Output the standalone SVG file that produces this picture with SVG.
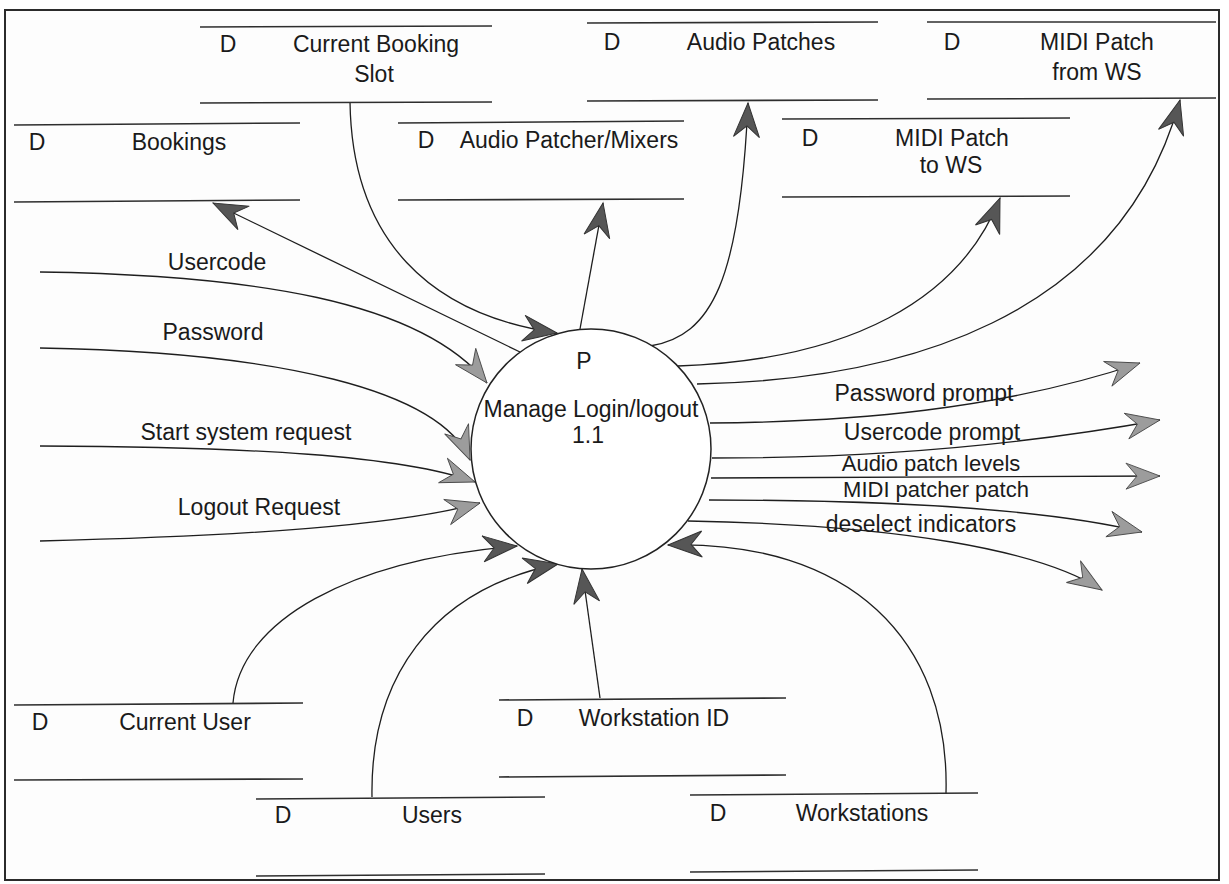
<svg xmlns="http://www.w3.org/2000/svg" width="1229" height="884" viewBox="0 0 1229 884">
  <style>
    .frame { fill: #fdfdfd; stroke: #2b2b2b; stroke-width: 2; }
    .store line { stroke: #2e2e2e; stroke-width: 1.6; }
    text { font-family: "Liberation Sans", Arial, sans-serif; font-size: 23px; fill: #1a1a1a; text-anchor: middle; }
    .small { font-size: 22px; }
    .proc { fill: #ffffff; stroke: #222; stroke-width: 1.5; }
    .flow { fill: none; stroke: #1e1e1e; stroke-width: 1.3; }
    .dark { marker-end: url(#headDark); }
    .light { marker-end: url(#headLight); }
  </style>
  <defs>
    <!-- barbed arrowheads: solid dark for store flows, light grey for external flows -->
    <marker id="headDark" markerUnits="userSpaceOnUse" orient="auto" markerWidth="40" markerHeight="34" refX="36" refY="16" viewBox="0 0 40 34">
      <path d="M36,16 L2,3 L13,16 L2,29 Z" fill="#565656" stroke="#333" stroke-width="1"/>
    </marker>
    <marker id="headLight" markerUnits="userSpaceOnUse" orient="auto" markerWidth="40" markerHeight="34" refX="36" refY="16" viewBox="0 0 40 34">
      <path d="M36,16 L2,3 L13,16 L2,29 Z" fill="#9c9c9c" stroke="#4a4a4a" stroke-width="0.9"/>
    </marker>
  </defs>

  <rect class="frame" x="5" y="10" width="1214" height="870"/>

  <!-- data flows -->
  <g id="connectors">
    <!-- stores to / from the process -->
    <path class="flow dark" d="M350,102 C352,240 430,315 557,333"/>
    <path class="flow dark" d="M520,352 L213,203"/>
    <path class="flow dark" d="M580,329 L603,203"/>
    <path class="flow dark" d="M650,346 C712,336 740,280 748,103"/>
    <path class="flow dark" d="M678,366 C850,360 960,300 1000,198"/>
    <path class="flow dark" d="M697,384 C900,380 1120,320 1180,100"/>
    <path class="flow dark" d="M233,703 C240,620 350,560 517,546"/>
    <path class="flow dark" d="M372,797 C370,680 430,590 558,564"/>
    <path class="flow dark" d="M600,698 L582,569"/>
    <path class="flow dark" d="M946,793 C950,640 850,540 668,545"/>
    <!-- external inputs -->
    <path class="flow light" d="M40,272 C250,275 420,300 487,383"/>
    <path class="flow light" d="M40,348 C280,352 440,390 470,460"/>
    <path class="flow light" d="M40,446 C250,447 400,455 475,482"/>
    <path class="flow light" d="M40,541 C250,536 400,525 480,503"/>
    <!-- external outputs -->
    <path class="flow light" d="M710,423 C850,422 1000,410 1140,363"/>
    <path class="flow light" d="M712,458 C900,458 1050,440 1160,420"/>
    <path class="flow light" d="M711,478 L1160,476"/>
    <path class="flow light" d="M709,500 C900,500 1050,510 1142,532"/>
    <path class="flow light" d="M688,521 C900,525 1040,550 1102,590"/>
  </g>

  <!-- flow labels -->
  <g id="flow-labels">
    <text x="217" y="270">Usercode</text>
    <text x="213" y="340">Password</text>
    <text x="246" y="440">Start system request</text>
    <text x="259" y="515">Logout Request</text>
    <text x="924" y="401">Password prompt</text>
    <text x="932" y="440">Usercode prompt</text>
    <text class="small" x="931" y="471">Audio patch levels</text>
    <text class="small" x="936" y="497">MIDI patcher patch</text>
    <text x="921" y="532">deselect indicators</text>
  </g>

  <!-- process -->
  <g id="process-1-1">
    <circle class="proc" cx="591" cy="449" r="120"/>
    <text x="584" y="369">P</text>
    <text x="591" y="417">Manage Login/logout</text>
    <text x="588" y="443">1.1</text>
  </g>

  <!-- data stores -->
  <g id="store-current-booking-slot" class="store">
    <line x1="200" y1="27" x2="492" y2="26"/>
    <line x1="200" y1="103" x2="492" y2="102"/>
    <text x="228" y="52">D</text>
    <text x="376" y="52">Current Booking</text>
    <text x="374" y="82">Slot</text>
  </g>
  <g id="store-audio-patches" class="store">
    <line x1="587" y1="23" x2="878" y2="22"/>
    <line x1="587" y1="101" x2="878" y2="100"/>
    <text x="612" y="50">D</text>
    <text x="761" y="50">Audio Patches</text>
  </g>
  <g id="store-midi-patch-from-ws" class="store">
    <line x1="927" y1="22" x2="1216" y2="22"/>
    <line x1="927" y1="99" x2="1216" y2="98"/>
    <text x="952" y="50">D</text>
    <text x="1097" y="50">MIDI Patch</text>
    <text x="1097" y="80">from WS</text>
  </g>
  <g id="store-bookings" class="store">
    <line x1="14" y1="125" x2="300" y2="123"/>
    <line x1="14" y1="202" x2="300" y2="200"/>
    <text x="37" y="150">D</text>
    <text x="179" y="150">Bookings</text>
  </g>
  <g id="store-audio-patcher-mixers" class="store">
    <line x1="398" y1="123" x2="684" y2="121"/>
    <line x1="398" y1="200" x2="684" y2="199"/>
    <text x="426" y="148">D</text>
    <text x="569" y="148">Audio Patcher/Mixers</text>
  </g>
  <g id="store-midi-patch-to-ws" class="store">
    <line x1="782" y1="119" x2="1070" y2="118"/>
    <line x1="782" y1="197" x2="1070" y2="196"/>
    <text x="810" y="146">D</text>
    <text x="952" y="146">MIDI Patch</text>
    <text x="951" y="173">to WS</text>
  </g>
  <g id="store-current-user" class="store">
    <line x1="14" y1="705" x2="303" y2="703"/>
    <line x1="14" y1="780" x2="303" y2="779"/>
    <text x="40" y="730">D</text>
    <text x="185" y="730">Current User</text>
  </g>
  <g id="store-workstation-id" class="store">
    <line x1="499" y1="700" x2="786" y2="698"/>
    <line x1="499" y1="777" x2="786" y2="775"/>
    <text x="525" y="726">D</text>
    <text x="654" y="726">Workstation ID</text>
  </g>
  <g id="store-users" class="store">
    <line x1="256" y1="799" x2="545" y2="797"/>
    <line x1="256" y1="876" x2="545" y2="874"/>
    <text x="283" y="823">D</text>
    <text x="432" y="823">Users</text>
  </g>
  <g id="store-workstations" class="store">
    <line x1="690" y1="795" x2="978" y2="793"/>
    <line x1="690" y1="872" x2="978" y2="870"/>
    <text x="718" y="821">D</text>
    <text x="862" y="821">Workstations</text>
  </g>
</svg>
